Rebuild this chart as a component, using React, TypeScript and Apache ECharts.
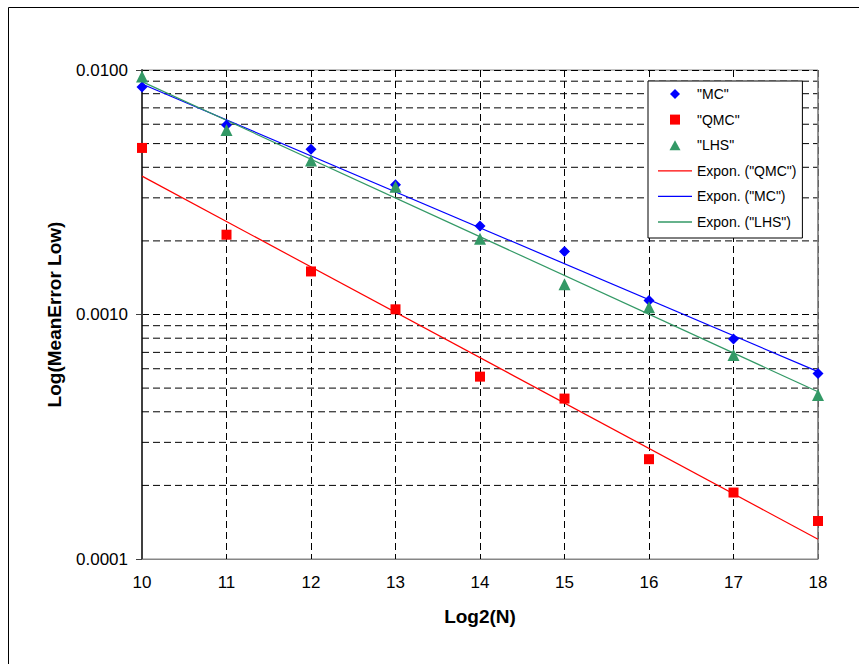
import React, { useEffect, useRef } from "react";
import * as echarts from "echarts";

const xValues = [10, 11, 12, 13, 14, 15, 16, 17, 18];
const mcValues = [0.00852, 0.00596, 0.00474, 0.00339, 0.0023, 0.00181, 0.00114, 0.000794, 0.000574];
const qmcValues = [0.0048, 0.00212, 0.0015, 0.00105, 0.000557, 0.000453, 0.000256, 0.000187, 0.000143];
const lhsValues = [0.0094, 0.00568, 0.00426, 0.00333, 0.00204, 0.00133, 0.00107, 0.000683, 0.000469];

const trendX = [10, 18];
const trendQMC = [0.00368, 0.0001205];
const trendMC = [0.00877, 0.000584];
const trendLHS = [0.00896, 0.000483];

const minorGridValues = [
  0.0002, 0.0003, 0.0004, 0.0005, 0.0006, 0.0007, 0.0008, 0.0009,
  0.002, 0.003, 0.004, 0.005, 0.006, 0.007, 0.008, 0.009,
];
const xAxisMin = 10;
const xAxisMax = 18;
const yAxisMin = 0.0001;
const yAxisMax = 0.01;

const FONT = "'Liberation Sans', Arial, sans-serif";
const BLUE = "#0000ff";
const RED = "#ff0000";
const GREEN = "#339966";
const DASH = [7, 4];

const ICON_DIAMOND = "path://M5,0 L10,5 L5,10 L0,5 Z";
const ICON_SQUARE = "path://M0,0 L9,0 L9,9 L0,9 Z";
const ICON_TRIANGLE = "path://M5.5,0 L11,10 L0,10 Z";
const ICON_LINE = "path://M0,0 L34,0 L34,1.3 L0,1.3 Z";

const pair = (xs: number[], ys: number[]) => xs.map((x, i) => [x, ys[i]]);

export default function App() {
  const ref = useRef<HTMLDivElement>(null);
  useEffect(() => {
    if (!ref.current) return;
    const chart = echarts.init(ref.current, null, { renderer: "svg" });
    chart.setOption({
      animation: false,
      backgroundColor: "#fff",
      textStyle: { fontFamily: FONT },
      graphic: [
        {
          type: "rect",
          shape: { x: 8.5, y: 7.5, width: 900, height: 700 },
          style: { fill: "none", stroke: "#000", lineWidth: 1 },
          silent: true,
          z: 0,
        },
      ],
      grid: {
        left: 142,
        top: 70,
        right: 41,
        bottom: 105,
        show: true,
        borderColor: "#868686",
        borderWidth: 1,
        backgroundColor: "#fff",
      },
      legend: {
        left: 648,
        top: 81,
        orient: "vertical",
        padding: [5, 6, 8, 10],
        itemWidth: 34,
        itemHeight: 10,
        itemGap: 9.6,
        symbolKeepAspect: true,
        backgroundColor: "#fff",
        borderColor: "#000",
        borderWidth: 1,
        borderRadius: 0,
        textStyle: { fontFamily: FONT, fontSize: 14, color: "#000", lineHeight: 16 },
        data: [
          { name: '"MC"', icon: ICON_DIAMOND },
          { name: '"QMC"', icon: ICON_SQUARE },
          { name: '"LHS"', icon: ICON_TRIANGLE },
          { name: 'Expon. ("QMC")', icon: ICON_LINE },
          { name: 'Expon. ("MC")', icon: ICON_LINE },
          { name: 'Expon. ("LHS")', icon: ICON_LINE },
        ],
        selectedMode: false,
        z: 10,
      },
      xAxis: {
        type: "value",
        min: xAxisMin,
        max: xAxisMax,
        interval: 1,
        name: "Log2(N)",
        nameLocation: "middle",
        nameGap: 48,
        nameTextStyle: { fontFamily: FONT, fontSize: 19, fontWeight: "bold", color: "#000" },
        axisLine: { show: true, onZero: false, lineStyle: { color: "#868686", width: 1 } },
        axisTick: { show: false },
        axisLabel: { fontFamily: FONT, fontSize: 17, color: "#000", margin: 15 },
        splitLine: { show: true, lineStyle: { color: "#000", width: 1, type: DASH } },
      },
      yAxis: {
        type: "log",
        logBase: 10,
        min: yAxisMin,
        max: yAxisMax,
        name: "Log(MeanError Low)",
        nameLocation: "middle",
        nameGap: 78,
        nameTextStyle: { fontFamily: FONT, fontSize: 19, fontWeight: "bold", color: "#000" },
        axisLine: { show: true, lineStyle: { color: "#404040", width: 2 } },
        axisTick: { show: true, length: 6, lineStyle: { color: "#404040", width: 1 } },
        axisLabel: {
          fontFamily: FONT,
          fontSize: 17,
          color: "#000",
          margin: 14,
          formatter: (v: number) => v.toFixed(4),
        },
        splitLine: { show: true, lineStyle: { color: "#000", width: 1, type: DASH } },
      },
      series: [
        {
          name: "minorGrid",
          type: "custom",
          silent: true,
          z: 1,
          data: minorGridValues.map((v) => [xAxisMin, v]),
          renderItem: (_params: any, api: any) => {
            const v = api.value(1);
            const p1 = api.coord([xAxisMin, v]);
            const p2 = api.coord([xAxisMax, v]);
            return {
              type: "line",
              shape: { x1: p1[0], y1: p1[1], x2: p2[0], y2: p2[1] },
              style: { stroke: "#000", lineWidth: 1, lineDash: DASH, fill: "none" },
            };
          },
        },
        {
          name: "plotBorderRight",
          type: "custom",
          silent: true,
          z: 2,
          data: [[xAxisMax, yAxisMin]],
          renderItem: (_params: any, api: any) => {
            const p1 = api.coord([xAxisMax, yAxisMin]);
            const p2 = api.coord([xAxisMax, yAxisMax]);
            return {
              type: "line",
              shape: { x1: p1[0], y1: p1[1], x2: p2[0], y2: p2[1] },
              style: { stroke: "#868686", lineWidth: 1.5, fill: "none" },
            };
          },
        },
        {
          name: 'Expon. ("QMC")',
          type: "line",
          data: pair(trendX, trendQMC),
          symbol: "none",
          lineStyle: { color: RED, width: 1.2 },
          itemStyle: { color: RED },
          z: 3,
          silent: true,
        },
        {
          name: 'Expon. ("MC")',
          type: "line",
          data: pair(trendX, trendMC),
          symbol: "none",
          lineStyle: { color: BLUE, width: 1.2 },
          itemStyle: { color: BLUE },
          z: 3,
          silent: true,
        },
        {
          name: 'Expon. ("LHS")',
          type: "line",
          data: pair(trendX, trendLHS),
          symbol: "none",
          lineStyle: { color: GREEN, width: 1.2 },
          itemStyle: { color: GREEN },
          z: 3,
          silent: true,
        },
        {
          name: '"MC"',
          type: "scatter",
          data: pair(xValues, mcValues),
          symbol: "diamond",
          symbolSize: 11,
          itemStyle: { color: BLUE, opacity: 1 },
          z: 4,
        },
        {
          name: '"QMC"',
          type: "scatter",
          data: pair(xValues, qmcValues),
          symbol: "rect",
          symbolSize: 10,
          itemStyle: { color: RED, opacity: 1 },
          z: 4,
        },
        {
          name: '"LHS"',
          type: "scatter",
          data: pair(xValues, lhsValues),
          symbol: "triangle",
          symbolSize: 12,
          itemStyle: { color: GREEN, opacity: 1 },
          z: 4,
        },
      ],
    });
    return () => chart.dispose();
  }, []);
  return (
    <div
      ref={ref}
      style={{ position: "fixed", left: 0, top: 0, width: 859, height: 664 }}
    />
  );
}
